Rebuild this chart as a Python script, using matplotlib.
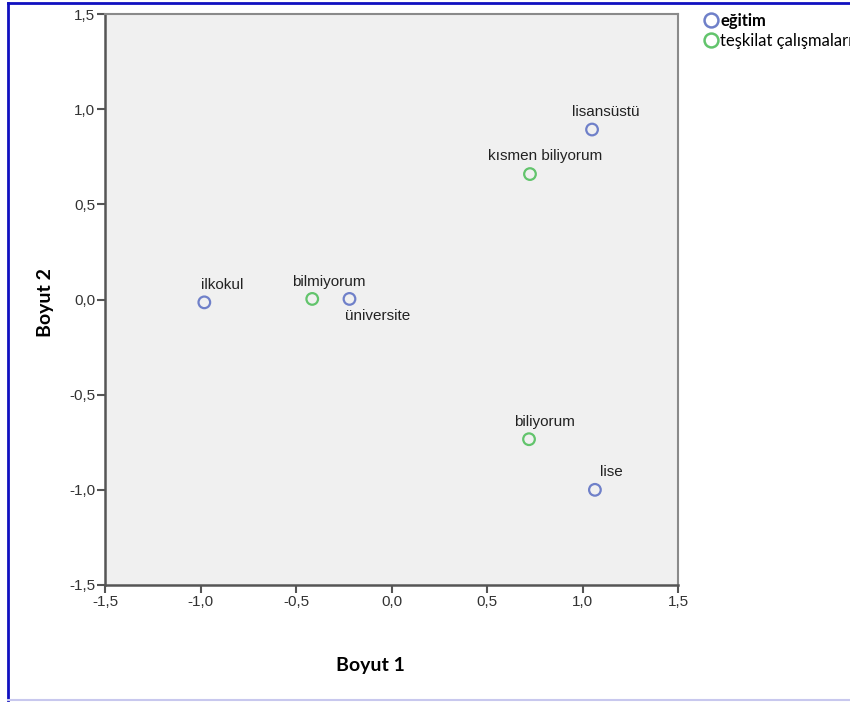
import matplotlib
matplotlib.use("Agg")
import matplotlib.pyplot as plt
from matplotlib.lines import Line2D

# Kategori noktaları (Boyut 1, Boyut 2)
egitim_labels = ["ilkokul", "üniversite", "lisansüstü", "lise"]
egitim_x = [-0.98, -0.22, 1.05, 1.065]
egitim_y = [-0.015, 0.003, 0.893, -1.0]

teskilat_labels = ["bilmiyorum", "kısmen biliyorum", "biliyorum"]
teskilat_x = [-0.415, 0.725, 0.72]
teskilat_y = [0.003, 0.659, -0.734]

ticks = [-1.5, -1.0, -0.5, 0.0, 0.5, 1.0, 1.5]
tick_labels = ["-1,5", "-1,0", "-0,5", "0,0", "0,5", "1,0", "1,5"]

legend_names = ["eğitim", "teşkilat çalışmaları"]

blue = "#6f80c9"
green = "#62c46c"

# etiket kaymaları (piksel)
label_offsets = {
    "ilkokul": (-3, 17), "üniversite": (-4, -17), "lisansüstü": (-20, 18),
    "lise": (5, 18), "bilmiyorum": (-20, 17), "kısmen biliyorum": (-42, 18),
    "biliyorum": (-15, 17),
}

W, H = 850, 702
fig = plt.figure(figsize=(W / 100, H / 100), dpi=100)
ax = fig.add_axes([105 / W, 1 - 585 / H, (678 - 105) / W, (585 - 14) / H])
ax.set_facecolor("#f0f0f0")

ax.scatter(egitim_x, egitim_y, s=70, facecolors="none", edgecolors=blue, linewidths=1.6, zorder=3)
ax.scatter(teskilat_x, teskilat_y, s=70, facecolors="none", edgecolors=green, linewidths=1.6, zorder=3)

for labs, xs, ys in [(egitim_labels, egitim_x, egitim_y), (teskilat_labels, teskilat_x, teskilat_y)]:
    for lab, x, y in zip(labs, xs, ys):
        dx, dy = label_offsets[lab]
        ax.annotate(lab, (x, y), xytext=(dx * 0.72, dy * 0.72), textcoords="offset points",
                    ha="left", va="center", fontsize=11, family="Liberation Sans", color="#222222")

ax.set_xlim(-1.5, 1.5)
ax.set_ylim(-1.5, 1.5)
ax.set_xticks(ticks)
ax.set_xticklabels(tick_labels)
ax.set_yticks(ticks)
ax.set_yticklabels(tick_labels)
ax.tick_params(length=6, width=1.5, color="#555555", labelsize=11, labelcolor="#333333", pad=1)
for lab in ax.get_xticklabels() + ax.get_yticklabels():
    lab.set_family("Liberation Sans")

for side in ["left", "bottom"]:
    ax.spines[side].set_color("#555555")
    ax.spines[side].set_linewidth(1.8)
for side in ["top", "right"]:
    ax.spines[side].set_color("#8a8a8a")
    ax.spines[side].set_linewidth(1.5)

fig.text(370 / W, 1 - 665 / H, "Boyut 1", ha="center", va="center", fontsize=14,
         fontweight="bold", family="Lato")
fig.text(45 / W, 1 - 303 / H, "Boyut 2", ha="center", va="center", fontsize=14,
         fontweight="bold", family="Lato", rotation=90)

# lejant (referansta sağ kenarda kesik)
handles = [Line2D([], [], ls="none", marker="o", ms=10, mfc="none", mec=c, mew=1.8) for c in (blue, green)]
leg = fig.legend(handles, legend_names, loc="upper left", bbox_to_anchor=(698 / W, 1 - 6 / H),
                 frameon=False, handlelength=0.8, handletextpad=0.15, labelspacing=0.25,
                 borderaxespad=0, prop={"family": "Lato", "size": 12})
leg.get_texts()[0].set_fontweight("bold")

# mavi çerçeve
fig.add_artist(Line2D([8 / W, 1], [1 - 3 / H, 1 - 3 / H], color="#1010c0", lw=2))
fig.add_artist(Line2D([8 / W, 8 / W], [1 - 3 / H, 1 - 700 / H], color="#1010c0", lw=2))
fig.add_artist(Line2D([8 / W, 1], [1 - 700 / H, 1 - 700 / H], color="#c8c8ee", lw=1.5))

fig.savefig("out.png", dpi=100)
